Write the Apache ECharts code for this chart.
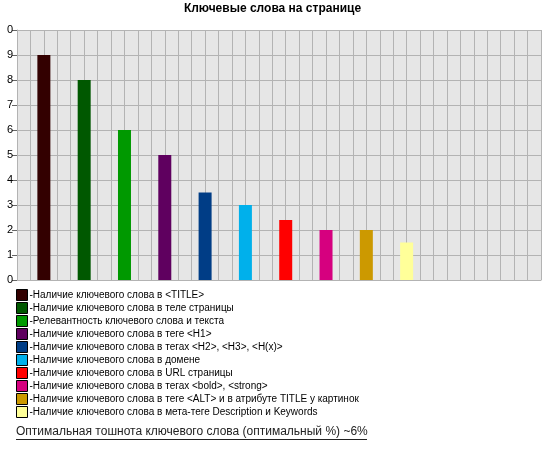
<!DOCTYPE html>
<html>
<head>
<meta charset="utf-8">
<script src="https://cdn.jsdelivr.net/npm/echarts@6/dist/echarts.min.js"></script>
<style>
  html, body { margin: 0; padding: 0; background: #fff; }
  #main { width: 545px; height: 450px; }
</style>
</head>
<body>
<div id="main"></div>
<script>
const titleText = "Ключевые слова на странице";
const noteText = "Оптимальная тошнота ключевого слова (оптимальный %) ~6%";

// legend names, one bar each
const categories = [
  "Наличие ключевого слова в <TITLE>",
  "Наличие ключевого слова в теле страницы",
  "Релевантность ключевого слова и текста",
  "Наличие ключевого слова в теге <H1>",
  "Наличие ключевого слова в тегах <H2>, <H3>, <H(x)>",
  "Наличие ключевого слова в домене",
  "Наличие ключевого слова в URL страницы",
  "Наличие ключевого слова в тегах <bold>, <strong>",
  "Наличие ключевого слова в теге <ALT> и в атрибуте TITLE у картинок",
  "Наличие ключевого слова в мета-теге Description и Keywords",
];
const values = [9, 8, 6, 5, 3.5, 3, 2.4, 2, 2, 1.5];
// slot on the 39-column x grid where each bar sits
const slots = [2, 5, 8, 11, 14, 17, 20, 23, 26, 29];
const colors = [
  "#330000", "#005800", "#009900", "#5f005f", "#003d86",
  "#00b0eb", "#ff0000", "#d6007f", "#cc9900", "#ffff99",
];
// the "10" label is cut at the left edge in the original
const yTickLabels = ["0", "1", "2", "3", "4", "5", "6", "7", "8", "9", "0"];

const chart = echarts.init(document.getElementById("main"));

const series = categories.map((name, i) => ({
  name: name,
  type: "bar",
  data: [[slots[i], values[i]]],
  barWidth: 13,
  barGap: "-100%",
  itemStyle: { color: colors[i] },
  animation: false,
}));

chart.setOption({
  animation: false,
  textStyle: { fontFamily: "Liberation Sans, Arial, sans-serif" },
  title: {
    text: titleText,
    left: "center",
    top: -2,
    textStyle: { fontSize: 12, fontWeight: "bold", color: "#000" },
  },
  grid: { left: 17, right: 4, top: 30, bottom: 170, backgroundColor: "#e6e6e6", show: true, borderWidth: 0 },
  xAxis: {
    type: "value",
    min: 0,
    max: 39,
    interval: 1,
    axisLabel: { show: false },
    axisTick: { show: false },
    axisLine: { show: true, onZero: false, lineStyle: { color: "#b3b3b3", width: 1 } },
    splitLine: { show: true, lineStyle: { color: "#b3b3b3", width: 1 } },
  },
  yAxis: {
    type: "value",
    min: 0,
    max: 10,
    interval: 1,
    axisLabel: {
      color: "#000",
      fontSize: 11,
      margin: 4,
      formatter: (v) => yTickLabels[Math.round(v)],
    },
    axisTick: { show: true, length: 5, lineStyle: { color: "#666" } },
    axisLine: { show: true, lineStyle: { color: "#b3b3b3" } },
    splitLine: { show: true, lineStyle: { color: "#b3b3b3", width: 1 } },
  },
  legend: {
    orient: "vertical",
    left: 16,
    top: 289,
    padding: 0,
    itemWidth: 11,
    itemHeight: 11,
    itemGap: 1,
    icon: "rect",
    selectedMode: false,
    itemStyle: { borderColor: "#000", borderWidth: 1 },
    formatter: (name) => "-" + name,
    textStyle: { fontSize: 10, color: "#000", padding: [0, 0, 0, -3], lineHeight: 11 },
    data: categories,
  },
  graphic: [
    {
      type: "text",
      left: 16,
      top: 426,
      style: { text: noteText, fontSize: 12, fill: "#222", fontFamily: "Liberation Sans, Arial, sans-serif" },
    },
    {
      type: "line",
      shape: { x1: 16, y1: 439.5, x2: 367, y2: 439.5 },
      style: { stroke: "#222", lineWidth: 1 },
    },
  ],
  series: series,
});
</script>
</body>
</html>
